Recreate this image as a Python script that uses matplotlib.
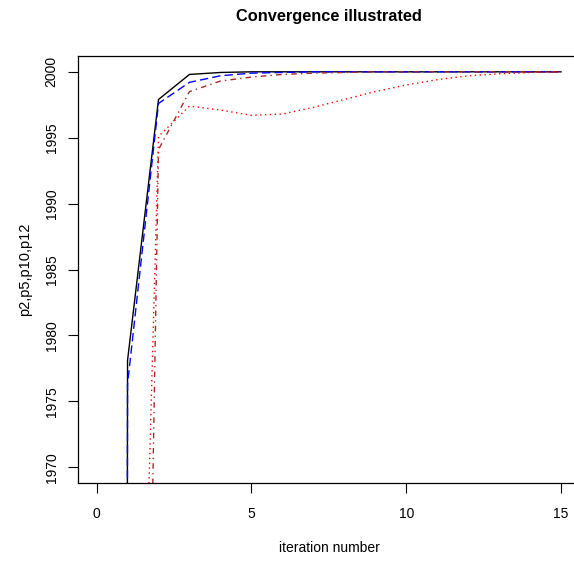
import matplotlib
matplotlib.use('Agg')
import matplotlib.pyplot as plt

# iteration index and the four convergence series
iterations = list(range(16))
p2 = [0, 1978.1, 1997.9, 1999.8, 1999.95, 2000, 2000, 2000, 2000, 2000, 2000,
      2000, 2000, 2000, 2000, 2000]
p5 = [0, 1976.3, 1997.6, 1999.2, 1999.7, 1999.9, 1999.95, 2000, 2000, 2000,
      2000, 2000, 2000, 2000, 2000, 2000]
p10 = [0, 1856.0, 1994.1, 1998.5, 1999.3, 1999.6, 1999.8, 1999.9, 1999.95,
       2000, 2000, 2000, 2000, 2000, 2000, 2000]
p12 = [0, 1909.0, 1995.1, 1997.4, 1997.1, 1996.7, 1996.8, 1997.3, 1997.9,
       1998.5, 1999.0, 1999.4, 1999.7, 1999.85, 1999.95, 2000]

x_ticks = [0, 5, 10, 15]
y_ticks = [1970, 1975, 1980, 1985, 1990, 1995, 2000]

plt.rcParams['font.family'] = ['Liberation Sans', 'DejaVu Sans']

fig = plt.figure(figsize=(5.74, 5.65), dpi=100)
ax = fig.add_axes([78 / 574, 1 - 483 / 565, (579.6 - 78) / 574, (483 - 56) / 565])

ax.plot(iterations, p2, color='black', lw=1.0, linestyle='-')
ax.plot(iterations, p5, color='blue', lw=1.0, linestyle=(0, (6, 3)))
ax.plot(iterations, p10, color='#A52A2A', lw=1.0, linestyle=(0, (1, 3, 4, 3)))
ax.plot(iterations, p12, color='red', lw=1.0, linestyle=(0, (1, 2.5)))

ax.set_xlim(-0.6, 15.6)
ax.set_ylim(1968.8, 2001.2)
ax.set_xticks(x_ticks)
ax.set_yticks(y_ticks)
ax.set_yticklabels([str(v) for v in y_ticks], rotation=90, va='center')

ax.tick_params(axis='both', direction='out', length=7.5, width=0.8,
               labelsize=10, color='black')
ax.tick_params(axis='x', pad=9.5)
ax.tick_params(axis='y', pad=6.5)
for s in ax.spines.values():
    s.set_linewidth(0.9)
    s.set_color('black')

fig.text(329 / 574, 1 - 17 / 565, 'Convergence illustrated', ha='center',
         va='center', fontsize=11.8, fontweight='bold')
fig.text(329 / 574, 1 - 548 / 565, 'iteration number', ha='center',
         va='center', fontsize=10)
fig.text(25 / 574, 1 - 269 / 565, 'p2,p5,p10,p12', ha='center', va='center',
         rotation=90, fontsize=10.5)

fig.savefig('out.png', dpi=100)
